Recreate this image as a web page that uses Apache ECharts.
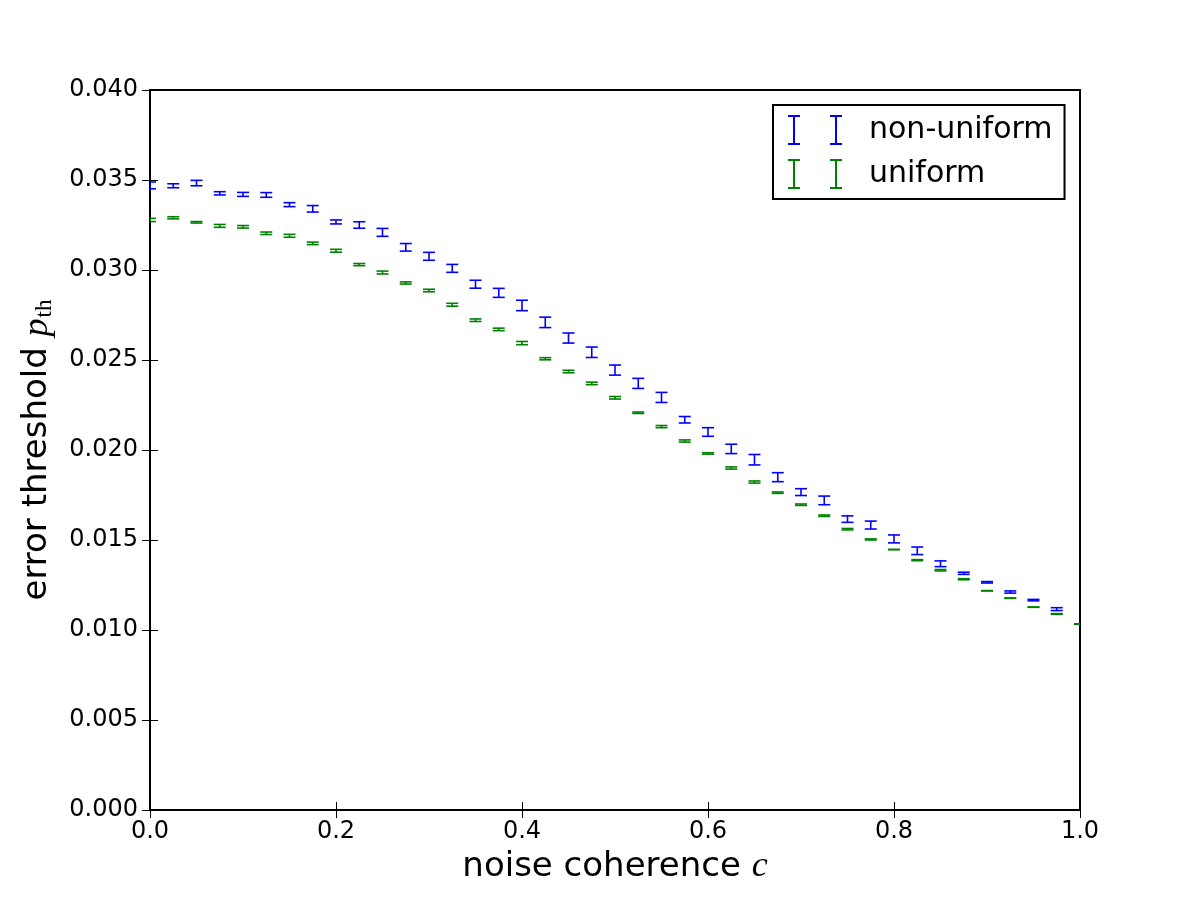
<!DOCTYPE html>
<html>
<head>
<meta charset="utf-8">
<script src="https://cdn.jsdelivr.net/npm/echarts@6/dist/echarts.min.js"></script>
<style>
html,body{margin:0;padding:0;background:#fff;}
#chart{width:1200px;height:900px;}
</style>
</head>
<body>
<div id="chart"></div>
<script>
// noise coherence c (x values)
const coherence = [0.000,0.025,0.050,0.075,0.100,0.125,0.150,0.175,0.200,0.225,0.250,0.275,0.300,0.325,0.350,0.375,0.400,0.425,0.450,0.475,0.500,0.525,0.550,0.575,0.600,0.625,0.650,0.675,0.700,0.725,0.750,0.775,0.800,0.825,0.850,0.875,0.900,0.925,0.950,0.975,1.000];

// non-uniform threshold values and error half-widths
const nonUniform = [0.03470,0.03468,0.03483,0.03426,0.03420,0.03417,0.03363,0.03340,0.03267,0.03250,0.03209,0.03126,0.03076,0.03009,0.02921,0.02873,0.02803,0.02709,0.02622,0.02543,0.02444,0.02370,0.02292,0.02168,0.02100,0.02006,0.01946,0.01849,0.01766,0.01720,0.01616,0.01583,0.01506,0.01440,0.01368,0.01315,0.01265,0.01211,0.01166,0.01116,0.01033];
const nonUniformErr = [0.00019,0.00011,0.00015,0.00009,0.00011,0.00013,0.00011,0.00018,0.00011,0.00018,0.00022,0.00021,0.00022,0.00022,0.00022,0.00025,0.00029,0.00029,0.00028,0.00029,0.00028,0.00028,0.00028,0.00018,0.00024,0.00026,0.00029,0.00025,0.00019,0.00024,0.00018,0.00022,0.00022,0.00021,0.00016,0.00006,0.00004,0.00006,0.00004,0.00008,0.00001];

// uniform threshold values and error half-widths
const uniform = [0.03278,0.03290,0.03265,0.03245,0.03240,0.03204,0.03190,0.03148,0.03107,0.03030,0.02986,0.02928,0.02886,0.02807,0.02721,0.02670,0.02594,0.02507,0.02436,0.02370,0.02290,0.02207,0.02130,0.02050,0.01981,0.01900,0.01822,0.01763,0.01696,0.01635,0.01560,0.01503,0.01447,0.01388,0.01332,0.01282,0.01218,0.01177,0.01127,0.01089,0.01033];
const uniformErr = [0.00009,0.00006,0.00004,0.00008,0.00007,0.00007,0.00008,0.00007,0.00008,0.00006,0.00008,0.00006,0.00007,0.00008,0.00007,0.00007,0.00009,0.00006,0.00007,0.00007,0.00007,0.00004,0.00006,0.00006,0.00004,0.00006,0.00006,0.00004,0.00004,0.00004,0.00004,0.00003,0.00001,0.00003,0.00004,0.00003,0.00001,0.00001,0.00001,0.00002,0.00001];

const seriesNames = ['non-uniform', 'uniform'];
const seriesColors = ['#0000ff', '#008000'];

const xTicks = { min: 0, max: 1, interval: 0.2 };
const yTicks = { min: 0, max: 0.04, interval: 0.005 };

function buildData(vals, errs) {
  return coherence.map((c, i) => [c, vals[i] - errs[i], vals[i] + errs[i]]);
}

function errorRenderer(color) {
  return function (params, api) {
    const x = api.value(0);
    const lo = api.coord([x, api.value(1)]);
    const hi = api.coord([x, api.value(2)]);
    const hw = 6;
    const style = { stroke: color, lineWidth: 1.6, fill: null };
    return {
      type: 'group',
      children: [
        { type: 'line', shape: { x1: lo[0], y1: lo[1], x2: hi[0], y2: hi[1] }, style: style },
        { type: 'line', shape: { x1: lo[0] - hw, y1: lo[1], x2: lo[0] + hw, y2: lo[1] }, style: style },
        { type: 'line', shape: { x1: hi[0] - hw, y1: hi[1], x2: hi[0] + hw, y2: hi[1] }, style: style }
      ]
    };
  };
}

const legendIcon = 'path://M0,0h12v2h-12z M5,0h2v30h-2z M0,28h12v2h-12z M42,0h12v2h-12z M47,0h2v30h-2z M42,28h12v2h-12z';

const chart = echarts.init(document.getElementById('chart'), null, { renderer: 'canvas' });

const tickStyle = { show: true, inside: true, length: 8, lineStyle: { color: '#000', width: 1 } };

const option = {
  backgroundColor: '#ffffff',
  animation: false,
  textStyle: { fontFamily: 'DejaVu Sans' },
  grid: {
    left: 150, right: 120, top: 90, bottom: 90,
    show: true, borderColor: '#000', borderWidth: 2, backgroundColor: 'transparent'
  },
  legend: {
    orient: 'vertical',
    left: 773, top: 105,
    padding: [10, 12, 10, 15],
    itemGap: 14,
    itemWidth: 54, itemHeight: 30,
    borderColor: '#000', borderWidth: 2, borderRadius: 0,
    backgroundColor: '#fff',
    textStyle: { fontSize: 30, color: '#000', fontFamily: 'DejaVu Sans', padding: [0, 0, 0, 22] },
    data: seriesNames.map((n, i) => ({ name: n, icon: legendIcon, itemStyle: { color: seriesColors[i] } })),
    z: 10
  },
  xAxis: [{
    type: 'value', min: xTicks.min, max: xTicks.max, interval: xTicks.interval,
    position: 'bottom',
    name: 'noise coherence {c|c}',
    nameLocation: 'middle', nameGap: 39,
    nameTextStyle: {
      fontSize: 34, color: '#000', fontFamily: 'DejaVu Sans',
      rich: { c: { fontSize: 36, fontStyle: 'italic', fontFamily: 'Liberation Serif', color: '#000' } }
    },
    axisLine: { show: false },
    axisTick: tickStyle,
    splitLine: { show: false },
    axisLabel: { color: '#000', fontSize: 24, margin: 10, formatter: v => v.toFixed(1) }
  }, {
    type: 'value', min: xTicks.min, max: xTicks.max, interval: xTicks.interval,
    position: 'top',
    axisLine: { show: false }, axisTick: tickStyle, splitLine: { show: false },
    axisLabel: { show: false }
  }],
  yAxis: [{
    type: 'value', min: yTicks.min, max: yTicks.max, interval: yTicks.interval,
    position: 'left',
    name: 'error threshold {p|p}{s|th}',
    nameLocation: 'middle', nameGap: 94, nameRotate: 90,
    nameTextStyle: {
      fontSize: 34, color: '#000', fontFamily: 'DejaVu Sans',
      rich: {
        p: { fontSize: 36, fontStyle: 'italic', fontFamily: 'Liberation Serif', color: '#000' },
        s: { fontSize: 23, fontFamily: 'Liberation Serif', color: '#000', padding: [14, 0, 0, 1] }
      }
    },
    axisLine: { show: false },
    axisTick: tickStyle,
    splitLine: { show: false },
    axisLabel: { color: '#000', fontSize: 24, margin: 12, formatter: v => v.toFixed(3) }
  }, {
    type: 'value', min: yTicks.min, max: yTicks.max, interval: yTicks.interval,
    position: 'right',
    axisLine: { show: false }, axisTick: tickStyle, splitLine: { show: false },
    axisLabel: { show: false }
  }],
  series: [
    {
      name: seriesNames[0], type: 'custom', clip: true,
      xAxisIndex: 0, yAxisIndex: 0,
      itemStyle: { color: seriesColors[0] },
      renderItem: errorRenderer(seriesColors[0]),
      encode: { x: 0, y: [1, 2] },
      data: buildData(nonUniform, nonUniformErr)
    },
    {
      name: seriesNames[1], type: 'custom', clip: true,
      xAxisIndex: 0, yAxisIndex: 0,
      itemStyle: { color: seriesColors[1] },
      renderItem: errorRenderer(seriesColors[1]),
      encode: { x: 0, y: [1, 2] },
      data: buildData(uniform, uniformErr)
    }
  ]
};

chart.setOption(option);
</script>
</body>
</html>
